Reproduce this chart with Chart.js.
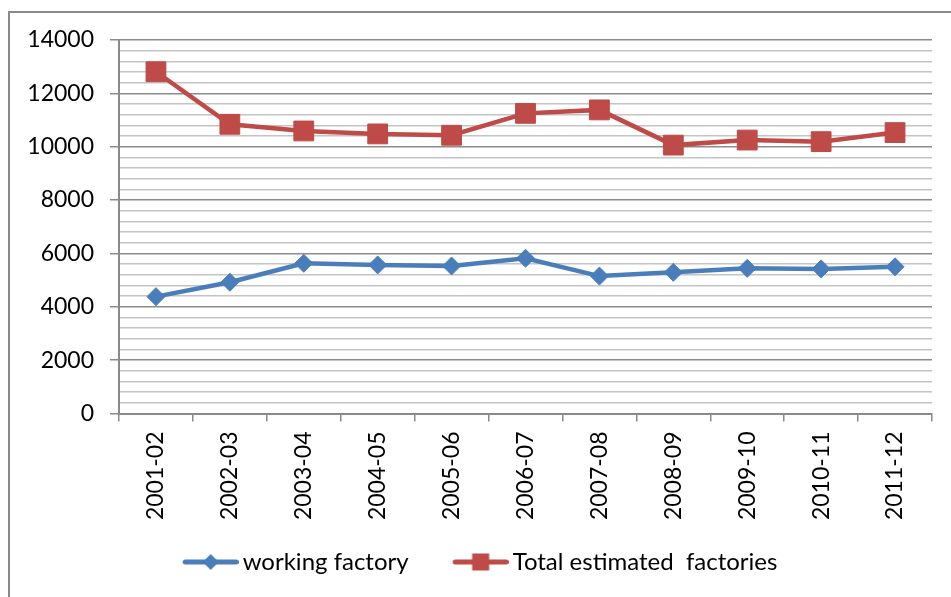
<!DOCTYPE html>
<html><head><meta charset="utf-8">
<script src="https://cdn.jsdelivr.net/npm/chart.js@4.4.0/dist/chart.umd.min.js"></script>
<style>
html,body{margin:0;padding:0;background:#fff;width:951px;height:597px;overflow:hidden}
#frame{position:absolute;left:8px;top:11px;width:1000px;height:700px;border-left:2px solid #8a8a8a;border-top:2px solid #8a8a8a;}
#wrap{position:absolute;left:0;top:0;width:951px;height:597px}
</style></head><body>
<div id="frame"></div>
<div id="wrap"><canvas id="c" width="951" height="597"></canvas></div>
<script>
// ---- data ----
const categories = ['2001-02','2002-03','2003-04','2004-05','2005-06','2006-07','2007-08','2008-09','2009-10','2010-11','2011-12'];
const workingFactory = [4380, 4920, 5630, 5570, 5530, 5820, 5150, 5290, 5440, 5420, 5500];
const totalEstimated = [12810, 10840, 10590, 10480, 10430, 11250, 11380, 10060, 10250, 10190, 10530];
const seriesNames = ['working factory', 'Total estimated  factories'];
const yTickLabels = [0, 2000, 4000, 6000, 8000, 10000, 12000, 14000];

const BLUE = '#4A7EBB';
const RED = '#BE4B48';
const FONT = 'Lato';
const CANVAS_H = 597;
const PLOT_BOTTOM = 413.5;
const PAD_BOTTOM = 13;

// legend sample: line with marker, drawn in the right part of an 82px image
function legendImage(color, marker) {
  const c = document.createElement('canvas');
  c.width = 82; c.height = 22;
  const g = c.getContext('2d');
  g.strokeStyle = color; g.lineWidth = 5; g.lineCap = 'round';
  g.beginPath(); g.moveTo(28.5, 11); g.lineTo(79.5, 11); g.stroke();
  g.fillStyle = color;
  const cx = 54;
  if (marker === 'diamond') {
    g.beginPath(); g.moveTo(cx, 3); g.lineTo(cx + 8, 11); g.lineTo(cx, 19); g.lineTo(cx - 8, 11); g.closePath(); g.fill();
  } else {
    g.fillRect(cx - 8.5, 2.5, 17, 17);
  }
  return c;
}
const legendImgs = [legendImage(BLUE, 'diamond'), legendImage(RED, 'square')];

new Chart(document.getElementById('c'), {
  type: 'line',
  data: {
    labels: categories,
    datasets: [
      { label: seriesNames[0], data: workingFactory, borderColor: BLUE, backgroundColor: BLUE,
        borderWidth: 4.5, pointStyle: 'rectRot', pointRadius: 9, pointBorderWidth: 1,
        pointBackgroundColor: BLUE, pointBorderColor: BLUE, tension: 0 },
      { label: seriesNames[1], data: totalEstimated, borderColor: RED, backgroundColor: RED,
        borderWidth: 4.5, pointStyle: 'rect', pointRadius: 14, pointBorderWidth: 1,
        pointBackgroundColor: RED, pointBorderColor: RED, tension: 0 }
    ]
  },
  options: {
    responsive: false,
    animation: false,
    layout: { padding: { left: 10, right: 19, top: 40, bottom: PAD_BOTTOM } },
    plugins: {
      tooltip: { enabled: false },
      legend: {
        position: 'bottom',
        labels: {
          usePointStyle: true,
          pointStyleWidth: 66,
          padding: 26,
          color: '#000',
          font: { family: FONT, size: 24 },
          generateLabels: (chart) => chart.data.datasets.map((ds, i) => ({
            text: ds.label, pointStyle: legendImgs[i], fillStyle: ds.borderColor,
            strokeStyle: ds.borderColor, lineWidth: 0, hidden: false, datasetIndex: i, fontColor: '#000'
          }))
        }
      }
    },
    scales: {
      x: {
        type: 'category',
        offset: true,
        grid: { offset: true, drawOnChartArea: false, drawTicks: true, tickLength: 8, color: '#8a8a8a', lineWidth: 1.5 },
        border: { display: true, color: '#8a8a8a', width: 2 },
        ticks: { maxRotation: 90, minRotation: 90, padding: 10, color: '#000', font: { family: FONT, size: 23 }, autoSkip: false },
        afterFit: (scale) => {
          const L = scale.chart.legend ? scale.chart.legend.height : 0;
          scale.height = CANVAS_H - PLOT_BOTTOM - L - PAD_BOTTOM;
        }
      },
      y: {
        min: 0, max: 14000,
        ticks: {
          stepSize: 400, autoSkip: false, padding: 16, color: '#000',
          font: { family: FONT, size: 23 },
          callback: (v) => yTickLabels.includes(v) ? String(v) : ''
        },
        grid: {
          tickLength: 9,
          color: (ctx) => (ctx.tick && ctx.tick.value % 2000 === 0) ? '#8c8c8c' : '#c4c4c4',
          tickColor: (ctx) => (ctx.tick && ctx.tick.value % 2000 === 0) ? '#8c8c8c' : 'rgba(0,0,0,0)',
          lineWidth: 1.5
        },
        border: { display: true, color: '#8a8a8a', width: 2 },
        afterFit: (scale) => { scale.width = 109; }
      }
    }
  }
});
</script>
</body></html>
